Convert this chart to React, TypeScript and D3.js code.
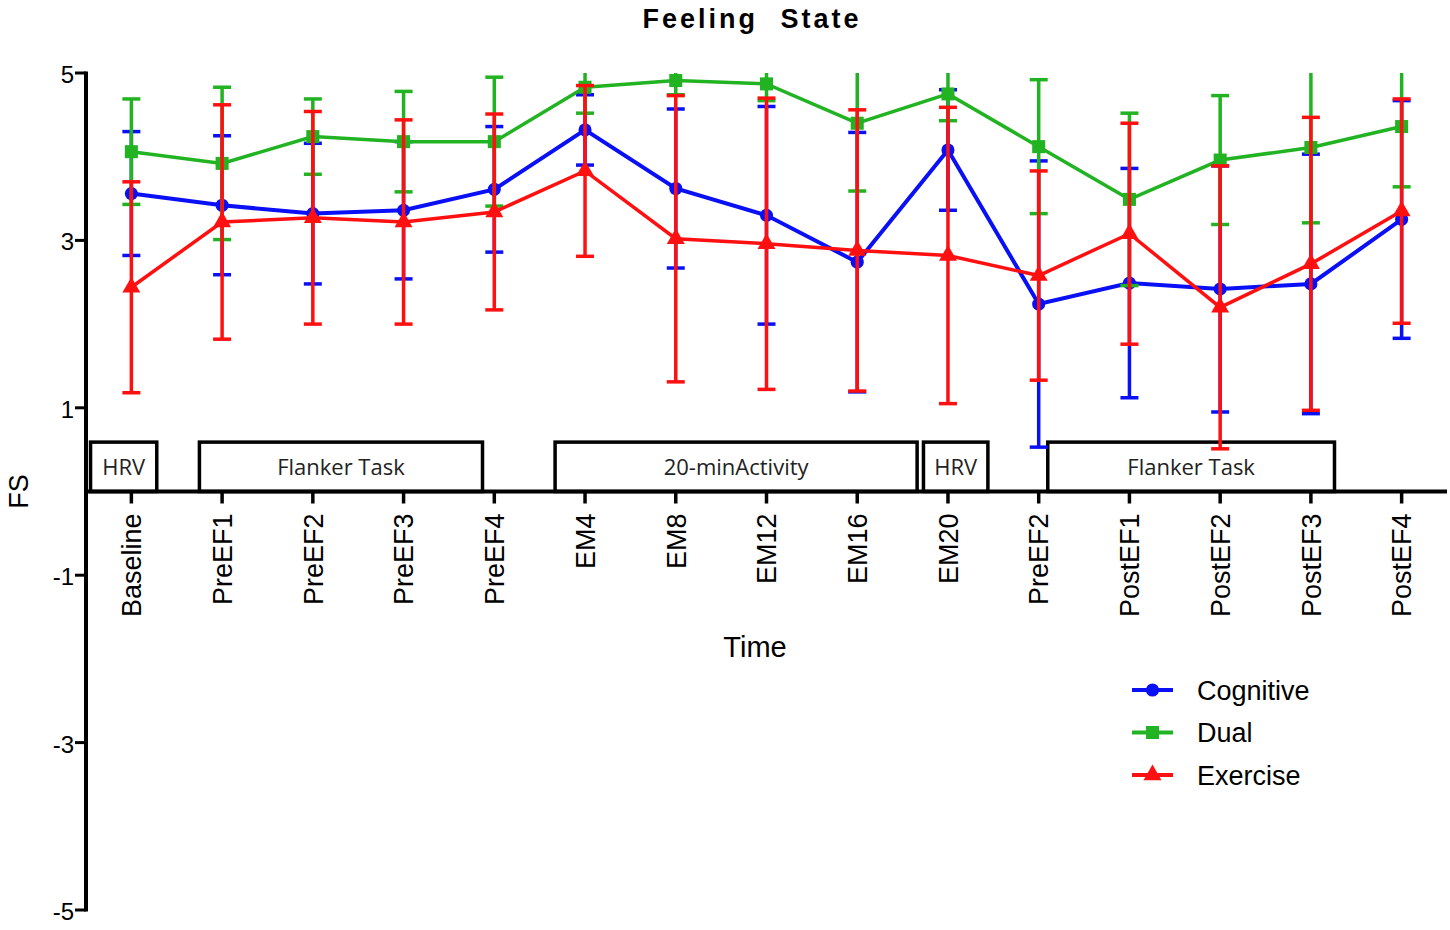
import React, { useEffect, useRef } from "react";
import * as d3 from "d3";

const timePoints = [
  "Baseline", "PreEF1", "PreEF2", "PreEF3", "PreEF4",
  "EM4", "EM8", "EM12", "EM16", "EM20",
  "PreEF2", "PostEF1", "PostEF2", "PostEF3", "PostEF4",
];

const cognitiveMean = [3.56, 3.42, 3.32, 3.36, 3.61, 4.32, 3.62, 3.3, 2.74, 4.08, 2.24, 2.49, 2.42, 2.48, 3.25];
const cognitiveSd = [0.74, 0.83, 0.84, 0.82, 0.75, 0.42, 0.95, 1.3, 1.55, 0.72, 1.71, 1.37, 1.47, 1.55, 1.42];
const dualMean = [4.06, 3.92, 4.24, 4.18, 4.18, 4.83, 4.91, 4.87, 4.4, 4.75, 4.12, 3.49, 3.96, 4.11, 4.36];
const dualSd = [0.63, 0.91, 0.45, 0.6, 0.77, 0.31, 0.17, 0.2, 0.81, 0.32, 0.8, 1.03, 0.77, 0.9, 0.72];
const exerciseMean = [2.44, 3.22, 3.27, 3.22, 3.34, 3.83, 3.02, 2.96, 2.88, 2.82, 2.58, 3.08, 2.2, 2.72, 3.35];
const exerciseSd = [1.26, 1.4, 1.27, 1.22, 1.17, 1.02, 1.71, 1.74, 1.68, 1.77, 1.25, 1.32, 1.69, 1.75, 1.34];

const yTicks = [5, 3, 1, -1, -3, -5];

// phase boxes over the time axis (in time-point index units)
const phaseLabels = ["HRV", "Flanker Task", "20-minActivity", "HRV", "Flanker Task"];
const phaseStart = [-0.45, 0.75, 4.67, 8.73, 10.1];
const phaseEnd = [0.28, 3.87, 8.66, 9.44, 13.26];
const phaseTop = 0.59;

const FONT = "Arial, 'Liberation Sans', sans-serif";

interface Series {
  name: string;
  mean: number[];
  sd: number[];
  color: string;
  symbol: d3.SymbolType;
  size: number;
  width: number;
}

const series: Series[] = [
  { name: "Cognitive", mean: cognitiveMean, sd: cognitiveSd, color: "#0a10f5", symbol: d3.symbolCircle, size: 135, width: 4 },
  { name: "Dual", mean: dualMean, sd: dualSd, color: "#22b322", symbol: d3.symbolSquare, size: 170, width: 3.5 },
  { name: "Exercise", mean: exerciseMean, sd: exerciseSd, color: "#ff1010", symbol: d3.symbolTriangle, size: 140, width: 3.5 },
];

const width = 1450;
const height = 930;

export default function App() {
  const ref = useRef<SVGSVGElement>(null);

  useEffect(() => {
    const svg = d3.select(ref.current);
    svg.selectAll("*").remove();

    const x = d3.scaleLinear().domain([-0.5, timePoints.length - 0.5]).range([86, 1447]);
    const y = d3.scaleLinear().domain([-5, 5]).range([910, 73]);

    // title
    svg
      .append("text")
      .attr("x", 752)
      .attr("y", 28)
      .attr("text-anchor", "middle")
      .attr("font-family", FONT)
      .attr("font-weight", 700)
      .attr("font-size", 27)
      .attr("letter-spacing", 3)
      .attr("word-spacing", 12)
      .text("Feeling State");

    // phase boxes
    const boxes = svg.append("g");
    phaseLabels.forEach((label, i) => {
      const x0 = x(phaseStart[i]);
      const x1 = x(phaseEnd[i]);
      boxes
        .append("rect")
        .attr("x", x0)
        .attr("y", y(phaseTop))
        .attr("width", x1 - x0)
        .attr("height", y(0) - y(phaseTop))
        .attr("fill", "#fff")
        .attr("stroke", "#000")
        .attr("stroke-width", 3.5);
      boxes
        .append("text")
        .attr("x", (x0 + x1) / 2)
        .attr("y", (y(phaseTop) + y(0)) / 2 + 8)
        .attr("text-anchor", "middle")
        .attr("font-family", "'Open Sans', sans-serif")
        .attr("font-size", 22)
        .attr("fill", "#222")
        .text(label);
    });

    // y axis
    const yAxis = svg.append("g");
    yAxis
      .append("line")
      .attr("x1", 86)
      .attr("x2", 86)
      .attr("y1", y(5) - 1.5)
      .attr("y2", y(-5) + 1.5)
      .attr("stroke", "#000")
      .attr("stroke-width", 4);
    yTicks.forEach((t) => {
      yAxis
        .append("line")
        .attr("x1", 75)
        .attr("x2", 86)
        .attr("y1", y(t))
        .attr("y2", y(t))
        .attr("stroke", "#000")
        .attr("stroke-width", 3);
      yAxis
        .append("text")
        .attr("x", 74)
        .attr("y", y(t))
        .attr("dy", "0.42em")
        .attr("text-anchor", "end")
        .attr("font-family", FONT)
        .attr("font-size", 24)
        .text(t);
    });

    // x axis
    const xAxis = svg.append("g");
    xAxis
      .append("line")
      .attr("x1", 86)
      .attr("x2", 1447)
      .attr("y1", y(0))
      .attr("y2", y(0))
      .attr("stroke", "#000")
      .attr("stroke-width", 4);
    timePoints.forEach((label, i) => {
      xAxis
        .append("line")
        .attr("x1", x(i))
        .attr("x2", x(i))
        .attr("y1", y(0))
        .attr("y2", y(0) + 12)
        .attr("stroke", "#000")
        .attr("stroke-width", 3.5);
      xAxis
        .append("text")
        .attr("transform", `translate(${x(i)},${y(0) + 22}) rotate(-90)`)
        .attr("dy", "0.36em")
        .attr("text-anchor", "end")
        .attr("font-family", FONT)
        .attr("font-size", 27)
        .text(label);
    });

    // axis titles
    svg
      .append("text")
      .attr("x", 755)
      .attr("y", 657)
      .attr("text-anchor", "middle")
      .attr("font-family", FONT)
      .attr("font-size", 29)
      .text("Time");
    svg
      .append("text")
      .attr("transform", `translate(18,${y(0)}) rotate(-90)`)
      .attr("dy", "0.36em")
      .attr("text-anchor", "middle")
      .attr("font-family", FONT)
      .attr("font-size", 27)
      .text("FS");

    // series: error bars, lines, markers
    const line = d3
      .line<number>()
      .x((_, i) => x(i))
      .y((d) => y(d));

    series.forEach((s) => {
      const g = svg.append("g");
      s.mean.forEach((m, i) => {
        const hiRaw = m + s.sd[i];
        const loRaw = m - s.sd[i];
        const hi = Math.min(hiRaw, 5);
        const lo = Math.max(loRaw, -5);
        g.append("line")
          .attr("x1", x(i))
          .attr("x2", x(i))
          .attr("y1", y(hi))
          .attr("y2", y(lo))
          .attr("stroke", s.color)
          .attr("stroke-width", 3.5);
        [
          [hi, hiRaw],
          [lo, loRaw],
        ].forEach(([v, raw]) => {
          if (v !== raw) return;
          g.append("line")
            .attr("x1", x(i) - 9)
            .attr("x2", x(i) + 9)
            .attr("y1", y(v))
            .attr("y2", y(v))
            .attr("stroke", s.color)
            .attr("stroke-width", 3.5);
        });
      });
      g.append("path")
        .attr("d", line(s.mean))
        .attr("fill", "none")
        .attr("stroke", s.color)
        .attr("stroke-width", s.width);
      g.selectAll("path.marker")
        .data(s.mean)
        .enter()
        .append("path")
        .attr("class", "marker")
        .attr("transform", (d, i) => `translate(${x(i)},${y(d)})`)
        .attr("d", d3.symbol().type(s.symbol).size(s.size)())
        .attr("fill", s.color);
    });

    // legend
    const legend = svg.append("g").attr("transform", "translate(1132,690)");
    series.forEach((s, i) => {
      const row = legend.append("g").attr("transform", `translate(0,${i * 42.5})`);
      row
        .append("line")
        .attr("x1", 0)
        .attr("x2", 41)
        .attr("stroke", s.color)
        .attr("stroke-width", 4);
      row
        .append("path")
        .attr("transform", "translate(20.5,0)")
        .attr("d", d3.symbol().type(s.symbol).size(s.size)())
        .attr("fill", s.color);
      row
        .append("text")
        .attr("x", 65)
        .attr("dy", "0.36em")
        .attr("font-family", FONT)
        .attr("font-size", 27)
        .text(s.name);
    });
  }, []);

  return (
    <svg
      ref={ref}
      width={width}
      height={height}
      style={{ position: "absolute", left: 0, top: 0, background: "#fff" }}
    />
  );
}
